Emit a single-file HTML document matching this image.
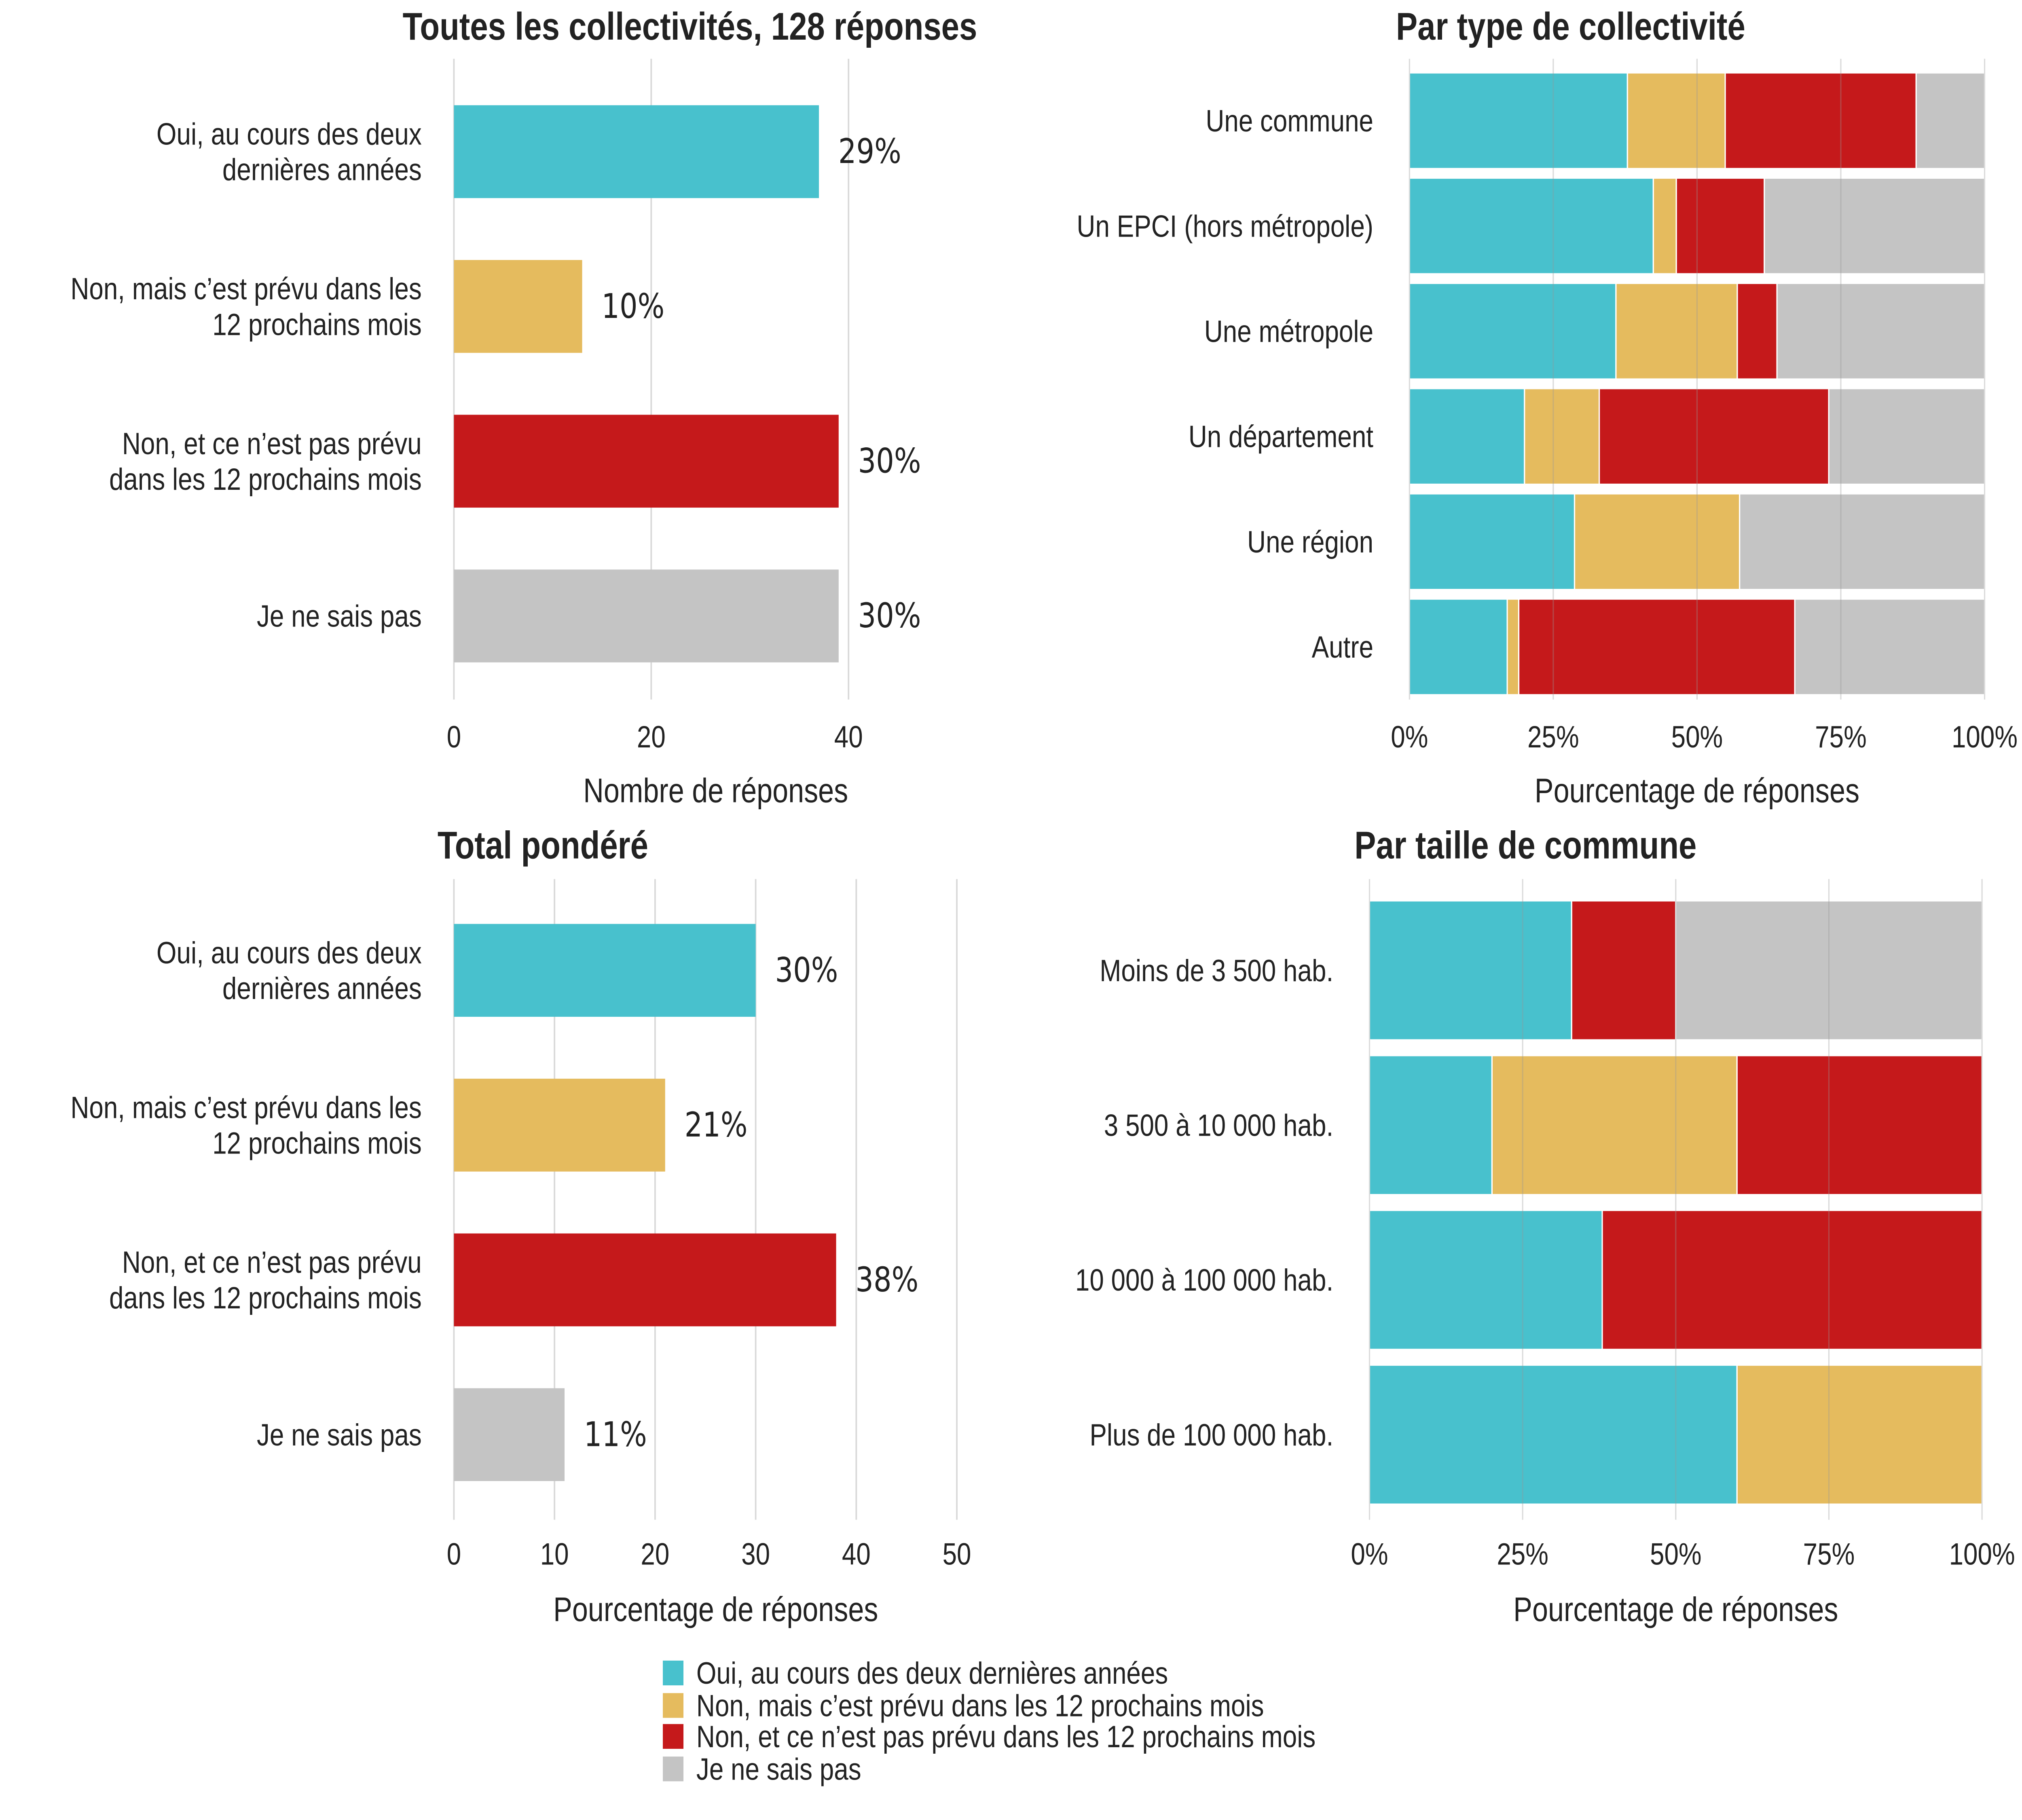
<!DOCTYPE html>
<html><head><meta charset="utf-8"><style>
html,body{margin:0;padding:0;background:#fff;width:100%;height:100%;overflow:hidden;}
svg{display:block;font-family:"Liberation Sans",sans-serif;width:100vw;height:100vh;}
</style></head><body>
<svg id="chart" viewBox="0 0 1568 1176" preserveAspectRatio="none" xmlns="http://www.w3.org/2000/svg"></svg>
<script>
const colors=["#48c1cd","#e5bb5e","#c5191b","#c4c4c4"];
const answers=["Oui, au cours des deux dernières années","Non, mais c\u2019est prévu dans les 12 prochains mois","Non, et ce n\u2019est pas prévu dans les 12 prochains mois","Je ne sais pas"];
const answerLines=[["Oui, au cours des deux","dernières années"],["Non, mais c\u2019est prévu dans les","12 prochains mois"],["Non, et ce n\u2019est pas prévu","dans les 12 prochains mois"],["Je ne sais pas"]];
const p1Counts=[37,13,39,39];
const p1Labels=["29%","10%","30%","30%"];
const p1Ticks=[0,20,40];
const p3Values=[30,21,38,11];
const p3Labels=["30%","21%","38%","11%"];
const p3Ticks=[0,10,20,30,40,50];
const p2Cats=["Une commune","Un EPCI (hors métropole)","Une métropole","Un département","Une région","Autre"];
const p2Oui=[37.9,42.4,35.9,20,28.7,17];
const p2Prevu=[17,4,21.1,13,28.7,2];
const p2NonPrevu=[33.2,15.3,6.9,39.9,0,48];
const p2NSP=[11.9,38.3,36.1,27.1,42.6,33];
const p4Cats=["Moins de 3 500 hab.","3 500 à 10 000 hab.","10 000 à 100 000 hab.","Plus de 100 000 hab."];
const p4Oui=[33,20,38,60];
const p4Prevu=[0,40,0,40];
const p4NonPrevu=[17,40,62,0];
const p4NSP=[50,0,0,0];
const pctTicks=[0,25,50,75,100];

const svg=document.getElementById('chart');
const NS="http://www.w3.org/2000/svg";
function el(tag,attrs,parent,text){const e=document.createElementNS(NS,tag);for(const k in attrs)e.setAttribute(k,attrs[k]);if(text!==undefined)e.textContent=text;(parent||svg).appendChild(e);return e;}
function txt(x,y,s,size,anchor,name,weight,family){const t=el('text',{x:x,y:y,'font-size':size,'text-anchor':anchor||'start','dominant-baseline':'central',fill:'#222','font-weight':weight||'normal'},null,s);if(family)t.setAttribute('font-family',family);

return t;}

function simplePanel(prefix,x0,scale,ticks,vals,labels,centers,gTop,gBot,tickY,axisTitle,axisTitleX,axisTitleY,title,titleX,titleY){
  txt(titleX,titleY,title,25,'middle',prefix+'-title','bold');
  const X=v=>x0+v*scale;
  ticks.forEach(t=>{const l=el('line',{x1:X(t),x2:X(t),y1:gTop,y2:gBot,stroke:'#d9d9d9','stroke-width':1.2});
  
  
  txt(X(t),tickY,String(t),20,'middle',prefix+'-tick-label');});
  vals.forEach((v,i)=>{const r=el('rect',{x:X(0),y:centers[i]-30,width:X(v)-X(0),height:60,fill:colors[i]});
  
  
  txt(X(v)+15,centers[i],labels[i],22,'start',prefix+'-value-label','normal','"DejaVu Sans",sans-serif');
  const lines=answerLines[i];lines.forEach((s,j)=>txt(327,centers[i]+(j-(lines.length-1)/2)*23,s,20,'end',prefix+'-category-label'));});
  txt(axisTitleX,axisTitleY,axisTitle,22,'middle',prefix+'-axis-title');
}
simplePanel('p1',352,7.65,p1Ticks,p1Counts,p1Labels,[98,198,298,398],38,452,476,'Nombre de réponses',555,511,'Toutes les collectivités, 128 réponses',535,17);
simplePanel('p3',352,7.8,p3Ticks,p3Values,p3Labels,[627,727,827,927],568,982,1004,'Pourcentage de réponses',555,1040,'Total pondéré',421,546);

function stackPanel(prefix,x0,x1,cats,series,centers,h,gTop,gBot,tickY,axisTitleY,title,titleX,titleY){
  txt(titleX,titleY,title,25,'middle',prefix+'-title','bold');
  const X=v=>x0+v/100*(x1-x0);
  cats.forEach((c,i)=>{let acc=0;series.forEach((s,k)=>{const v=s[i];if(v>0){const r=el('rect',{x:X(acc),y:centers[i]-h/2,width:X(acc+v)-X(acc),height:h,fill:colors[k],stroke:'#fff','stroke-width':1});
  
  }acc+=v;});
  txt(x0-28,centers[i],c,20,'end',prefix+'-category-label');});
  pctTicks.forEach(t=>{const l=el('line',{x1:X(t),x2:X(t),y1:gTop,y2:gBot,stroke:'#999','stroke-opacity':0.35,'stroke-width':1});
  
  
  txt(X(t),tickY,t+'%',20,'middle',prefix+'-tick-label');});
  txt((x0+x1)/2,axisTitleY,'Pourcentage de réponses',22,'middle',prefix+'-axis-title');
}
stackPanel('p2',1093,1539,p2Cats,[p2Oui,p2Prevu,p2NonPrevu,p2NSP],[78,146,214,282,350,418],62,38,452,476,511,'Par type de collectivité',1218,17);
stackPanel('p4',1062,1537,p4Cats,[p4Oui,p4Prevu,p4NonPrevu,p4NSP],[627,727,827,927],90,568,982,1004,1040,'Par taille de commune',1183,546);

const ly=[1081,1102,1122,1143];
answers.forEach((a,i)=>{const r=el('rect',{x:514,y:ly[i]-8,width:16,height:16,fill:colors[i]});


txt(540,ly[i],a,20,'start','legend-entry');});
</script>
</body></html>
